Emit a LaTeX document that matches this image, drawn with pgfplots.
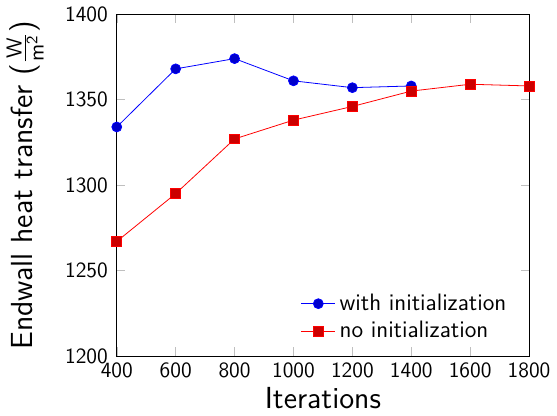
\documentclass[border=0pt]{standalone}
\usepackage{pgfplots}
\pgfplotsset{compat=1.18}
\begin{document}
\begin{tikzpicture}
\begin{axis}[
    width=207.5bp, height=172bp,
    scale only axis,
    xmin=400, xmax=1800,
    ymin=1200, ymax=1400,
    xtick={400,600,...,1800},
    ytick={1200,1250,...,1400},
    font=\sffamily,
    /pgf/number format/assume math mode=true,
    /pgf/number format/1000 sep={},
    ticklabel style={font=\sffamily\fontsize{11}{13}\selectfont},
    yticklabel style={xshift=-1bp},
    tick style={black!25},
    xlabel={Iterations},
    ylabel={Endwall heat transfer ($\mathsf{\frac{W}{m^2}}$)},
    label style={font=\sffamily\fontsize{15.4}{17}\selectfont},
    xlabel style={yshift=2pt},
    ylabel style={yshift=4bp},
    legend style={at={(0.97,0.02)}, anchor=south east, draw=none, fill=none, font=\sffamily\fontsize{12}{14}\selectfont},
    legend cell align={left},
]
\addplot[blue, mark=*, mark size=2.5pt, mark options={fill=blue!80!black}] coordinates {
(400,1334) (600,1368) (800,1374) (1000,1361) (1200,1357) (1400,1358)
};
\addplot[red, mark=square*, mark size=2.5pt, mark options={fill=red!80!black}] coordinates {
(400,1267) (600,1295) (800,1327) (1000,1338) (1200,1346) (1400,1355) (1600,1359) (1800,1358)
};
\legend{with initialization, no initialization}
\end{axis}
\end{tikzpicture}
\end{document}
